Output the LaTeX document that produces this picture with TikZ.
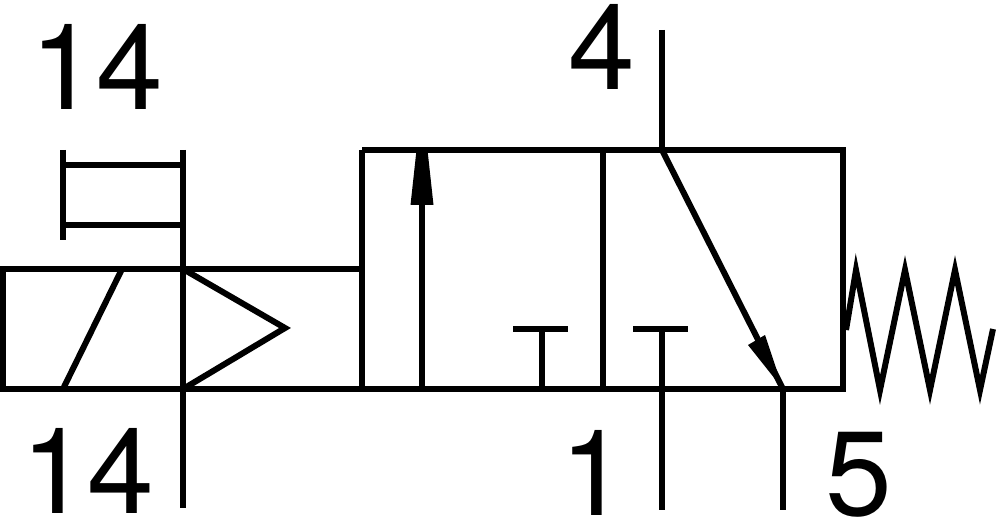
\documentclass[tikz,border=0pt]{standalone}
\usepackage{fontspec}
\setmainfont{TeX Gyre Heros}
\tikzset{
  ln/.style={line width=6pt,line cap=butt,line join=miter,black},
  hd/.style={fill=black,draw=none},
  lbl/.style={inner sep=0pt,outer sep=0pt,font=\fontsize{120}{120}\selectfont,text=black,anchor=base west}
}
\begin{document}
\begin{tikzpicture}[x=1pt,y=-1pt]
\useasboundingbox (0,0) rectangle (1000,521);
\fill[white] (0,0) rectangle (1000,521);
\coordinate (tl) at (362,150);
\coordinate (tr) at (843,150);
\coordinate (bl) at (362,389);
\coordinate (br) at (843,389);
\coordinate (p4) at (662,150);
\coordinate (p4e) at (662,30);
\coordinate (p5) at (783,389);
\coordinate (p5e) at (783,510);
\coordinate (p1e) at (662,510);
% valve body
\draw[ln] (tl) -- (tr) -- (br) -- (3,389) -- (3,269) -- (362,269);
\draw[ln] (tl) -- (bl);
\draw[ln] (603,150) -- (603,389);
% solenoid
\draw[ln] (122,269) -- (63,389);
\draw[ln] (183,150) -- (183,508);
\draw[ln] (183,269) -- (285,328) -- (183,389);
% manual override
\draw[ln] (63,150) -- (63,240);
\draw[ln] (63,165) -- (183,165);
\draw[ln] (63,225) -- (183,225);
% flow arrows
\draw[ln] (422,389) -- (422,150);
\fill[hd] (410.5,205) -- (433.5,205) -- (427.5,150) -- (416.5,150) -- cycle;
\draw[ln] (p4) -- (p5);
\fill[hd] (748,345) -- (765,335) -- (p5) -- cycle;
\draw[ln] (p4e) -- (p4);
\draw[ln] (p5) -- (p5e);
% blocked ports
\draw[ln] (513,329) -- (568,329);
\draw[ln] (542,329) -- (542,389);
\draw[ln] (633,329) -- (688,329);
\draw[ln] (662,329) -- (p1e);
% spring
\draw[ln] (846,330) -- (856,270) -- (880,390) -- (905,270) -- (930,390) -- (955,270) -- (980,390) -- (993,329);
% labels
\node[lbl] (n14a) at (30,110) {14};
\node[lbl] (n14b) at (21,513) {14};
\node[lbl] (n4) at (568,90) {4};
\node[lbl] (n1) at (560,515) {1};
\node[lbl] (n5) at (825,515) {5};
\end{tikzpicture}
\end{document}
